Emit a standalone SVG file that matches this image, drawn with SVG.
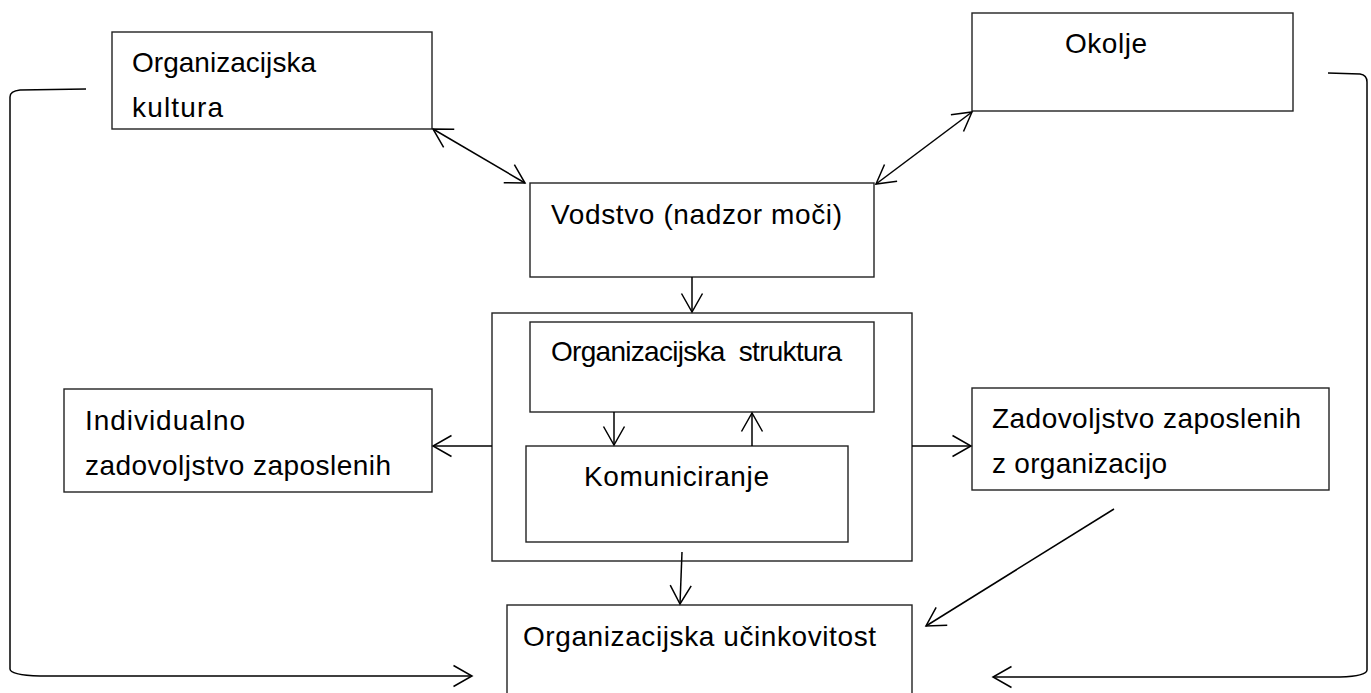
<svg xmlns="http://www.w3.org/2000/svg" width="1371" height="693" viewBox="0 0 1371 693">
<defs>
<style>
.box{fill:#fff;stroke:#222;stroke-width:1.4}
.t{font-family:"Liberation Sans",Arial,sans-serif;font-size:28px;fill:#000}
.ln{fill:none;stroke:#000;stroke-width:1.5}
</style>
<marker id="ah" viewBox="-22 -13 24 26" refX="0" refY="0" markerWidth="24" markerHeight="26" markerUnits="userSpaceOnUse" orient="auto-start-reverse">
<path d="M-18.5,-10.5 L0,0 L-18.5,10.5" fill="none" stroke="#000" stroke-width="1.5"/>
</marker>
</defs>
<rect width="1371" height="693" fill="#fff"/>

<g id="kultura">
<rect class="box" x="112" y="32" width="320" height="97"/>
<text class="t" x="132" y="72" textLength="184" lengthAdjust="spacing">Organizacijska</text>
<text class="t" x="132" y="117" textLength="91" lengthAdjust="spacing">kultura</text>
</g>

<g id="okolje">
<rect class="box" x="972" y="13" width="321" height="98"/>
<text class="t" x="1065" y="53" textLength="82" lengthAdjust="spacing">Okolje</text>
</g>

<g id="vodstvo">
<rect class="box" x="530" y="183" width="344" height="94"/>
<text class="t" x="551" y="224" textLength="291" lengthAdjust="spacing">Vodstvo (nadzor moči)</text>
</g>

<g id="container">
<rect class="box" x="492" y="313" width="420" height="248"/>
</g>

<g id="struktura">
<rect class="box" x="530" y="322" width="344" height="90"/>
<text class="t" x="551" y="361" textLength="291" lengthAdjust="spacing" xml:space="preserve">Organizacijska  struktura</text>
</g>

<g id="komuniciranje">
<rect class="box" x="526" y="446" width="322" height="96"/>
<text class="t" x="584" y="486" textLength="185" lengthAdjust="spacing">Komuniciranje</text>
</g>

<g id="individualno">
<rect class="box" x="64" y="389" width="368" height="103"/>
<text class="t" x="85" y="430" textLength="160" lengthAdjust="spacing">Individualno</text>
<text class="t" x="85" y="475" textLength="306" lengthAdjust="spacing">zadovoljstvo zaposlenih</text>
</g>

<g id="zadovoljstvo">
<rect class="box" x="972" y="388" width="357" height="102"/>
<text class="t" x="992" y="428" textLength="309" lengthAdjust="spacing">Zadovoljstvo zaposlenih</text>
<text class="t" x="992" y="473" textLength="175" lengthAdjust="spacing">z organizacijo</text>
</g>

<g id="ucinkovitost">
<rect class="box" x="507" y="605" width="405" height="100"/>
<text class="t" x="523" y="646" textLength="353" lengthAdjust="spacing">Organizacijska učinkovitost</text>
</g>

<g id="connectors">
<line class="ln" x1="433" y1="129" x2="525" y2="183" marker-start="url(#ah)" marker-end="url(#ah)"/>
<line class="ln" x1="972" y1="112" x2="876" y2="184" marker-start="url(#ah)" marker-end="url(#ah)"/>
<line class="ln" x1="692" y1="277" x2="692" y2="312" marker-end="url(#ah)"/>
<line class="ln" x1="614" y1="412" x2="614" y2="445" marker-end="url(#ah)"/>
<line class="ln" x1="752" y1="446" x2="752" y2="413" marker-end="url(#ah)"/>
<line class="ln" x1="492" y1="446" x2="433" y2="446" marker-end="url(#ah)"/>
<line class="ln" x1="912" y1="446" x2="971" y2="446" marker-end="url(#ah)"/>
<line class="ln" x1="682" y1="552" x2="680" y2="604" marker-end="url(#ah)"/>
<line class="ln" x1="1114" y1="509" x2="926" y2="626" marker-end="url(#ah)"/>
<path class="ln" d="M86,89 L20,90 Q10,91 10,97 L10,669 Q10,675 40,676 L472,676" marker-end="url(#ah)"/>
<path class="ln" d="M1328,73 L1360,74 Q1367,75 1367,82 L1367,670 Q1367,676 1340,677 L993,677" marker-end="url(#ah)"/>
</g>
</svg>
